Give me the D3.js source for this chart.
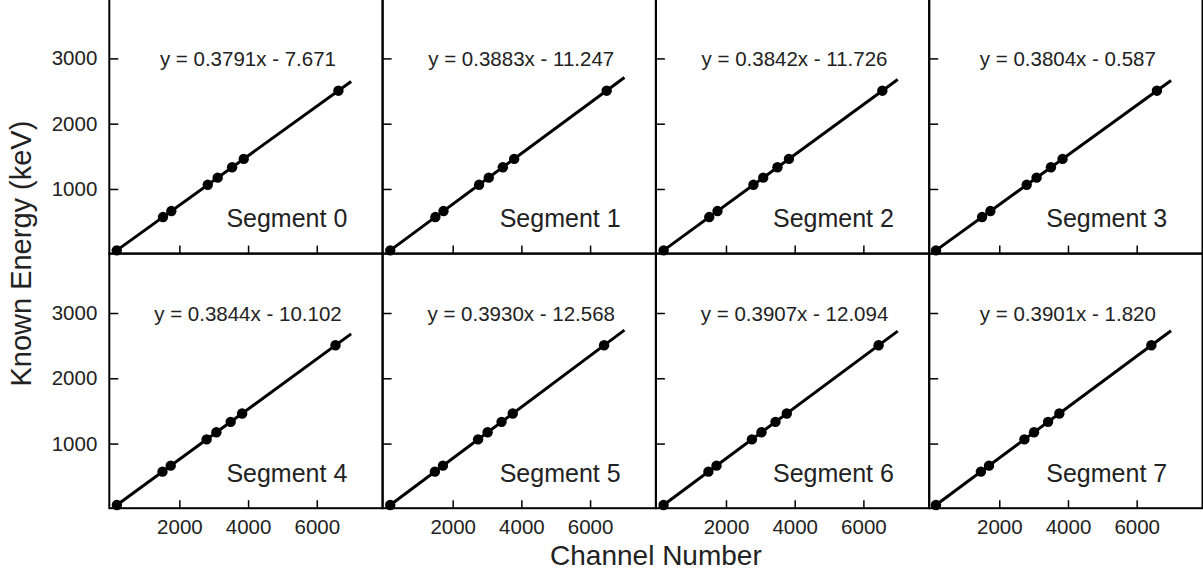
<!DOCTYPE html>
<html>
<head>
<meta charset="utf-8">
<script src="https://cdn.jsdelivr.net/npm/d3@7"></script>
<style>
  body { margin: 0; background: #fff; }
  text { font-family: "Liberation Sans", Arial, sans-serif; fill: #222; }
</style>
</head>
<body>
<div id="chart"></div>
<script>
// calibration peaks (keV) and the channel each segment put them in
const knownEnergy = [59.5, 569.7, 661.7, 1063.7, 1173.2, 1332.5, 1460.8, 2505.7];

const channels0 = [177, 1523, 1766, 2826, 3115, 3535, 3874, 6630];
const channels1 = [182, 1496, 1733, 2768, 3050, 3461, 3791, 6482];
const channels2 = [185, 1513, 1753, 2799, 3084, 3499, 3833, 6552];
const channels3 = [158, 1499, 1741, 2798, 3086, 3504, 3842, 6589];
const channels4 = [181, 1508, 1748, 2793, 3078, 3493, 3827, 6545];
const channels5 = [183, 1482, 1716, 2739, 3017, 3423, 3749, 6408];
const channels6 = [183, 1489, 1725, 2754, 3034, 3442, 3770, 6444];
const channels7 = [157, 1465, 1701, 2731, 3012, 3420, 3749, 6428];

const segmentNames = ["Segment 0", "Segment 1", "Segment 2", "Segment 3",
                      "Segment 4", "Segment 5", "Segment 6", "Segment 7"];
const fitSlopes = [0.3791, 0.3883, 0.3842, 0.3804, 0.3844, 0.3930, 0.3907, 0.3901];
const fitIntercepts = [-7.671, -11.247, -11.726, -0.587, -10.102, -12.568, -12.094, -1.820];
const fitEquations = ["y = 0.3791x - 7.671", "y = 0.3883x - 11.247", "y = 0.3842x - 11.726",
                      "y = 0.3804x - 0.587", "y = 0.3844x - 10.102", "y = 0.3930x - 12.568",
                      "y = 0.3907x - 12.094", "y = 0.3901x - 1.820"];
const fitEnd = 7000;

const xTicks = [2000, 4000, 6000];
const yTicks = [1000, 2000, 3000];

const allChannels = [channels0, channels1, channels2, channels3,
                     channels4, channels5, channels6, channels7];

// layout
const W = 1203, H = 573;
const gridLeft = 109.3, gridTop = -1;
const panelW = 273.3, panelH = 254.6;

const svg = d3.select("#chart")
  .append("svg")
  .attr("width", W)
  .attr("height", H);

const x = d3.scaleLinear().domain([-40, 7916]).range([0, panelW]);
const y = d3.scaleLinear().domain([10, 3910]).range([panelH, 0]);

allChannels.forEach(function (ch, i) {
  const col = i % 4, row = Math.floor(i / 4);
  const g = svg.append("g")
    .attr("transform", `translate(${gridLeft + col * panelW},${gridTop + row * panelH})`);

  const pts = ch.map(function (c, k) { return { ch: c, e: knownEnergy[k] }; });

  // fit line
  const x0 = d3.min(ch);
  const fit = [x0, fitEnd].map(function (c) { return { ch: c, e: fitSlopes[i] * c + fitIntercepts[i] }; });
  g.append("path")
    .datum(fit)
    .attr("d", d3.line().x(d => x(d.ch)).y(d => y(d.e)))
    .attr("fill", "none")
    .attr("stroke", "#000")
    .attr("stroke-width", 3);

  g.selectAll("circle")
    .data(pts)
    .enter()
    .append("circle")
    .attr("cx", d => x(d.ch))
    .attr("cy", d => y(d.e))
    .attr("r", 5.2)
    .attr("fill", "#000");

  // axes, ticks pointing inward
  const yAxis = d3.axisLeft(y).tickValues(yTicks).tickFormat(d3.format("d"))
    .tickSizeInner(-9).tickSizeOuter(0).tickPadding(12);
  if (col > 0) yAxis.tickFormat("");
  const ya = g.append("g").call(yAxis);

  const xAxis = d3.axisBottom(x).tickValues(xTicks).tickFormat(d3.format("d"))
    .tickSizeInner(-8).tickSizeOuter(0).tickPadding(11);
  if (row == 0) xAxis.tickFormat("");
  const xa = g.append("g").attr("transform", `translate(0,${panelH})`).call(xAxis);

  [ya, xa].forEach(function (a) {
    a.select(".domain").remove();
    a.selectAll("line").attr("stroke", "#000").attr("stroke-width", 1.5);
    a.selectAll("text").attr("font-size", 20.5).attr("fill", "#111")
      .attr("font-family", "Liberation Sans, Arial, sans-serif");
  });

  g.append("rect")
    .attr("width", panelW)
    .attr("height", panelH)
    .attr("fill", "none")
    .attr("stroke", "#000")
    .attr("stroke-width", 2);

  g.append("text")
    .attr("x", panelW / 2 + 2)
    .attr("y", y(3000) + 8)
    .attr("text-anchor", "middle")
    .attr("font-size", 20.5)
    .text(fitEquations[i]);

  g.append("text")
    .attr("x", 238)
    .attr("y", 228)
    .attr("text-anchor", "end")
    .attr("font-size", 25)
    .text(segmentNames[i]);
});

svg.append("text")
  .attr("x", gridLeft + 2 * panelW)
  .attr("y", 565)
  .attr("text-anchor", "middle")
  .attr("font-size", 28)
  .text("Channel Number");

svg.append("text")
  .attr("transform", `translate(31,${gridTop + panelH}) rotate(-90)`)
  .attr("text-anchor", "middle")
  .attr("font-size", 29)
  .text("Known Energy (keV)");
</script>
</body>
</html>
